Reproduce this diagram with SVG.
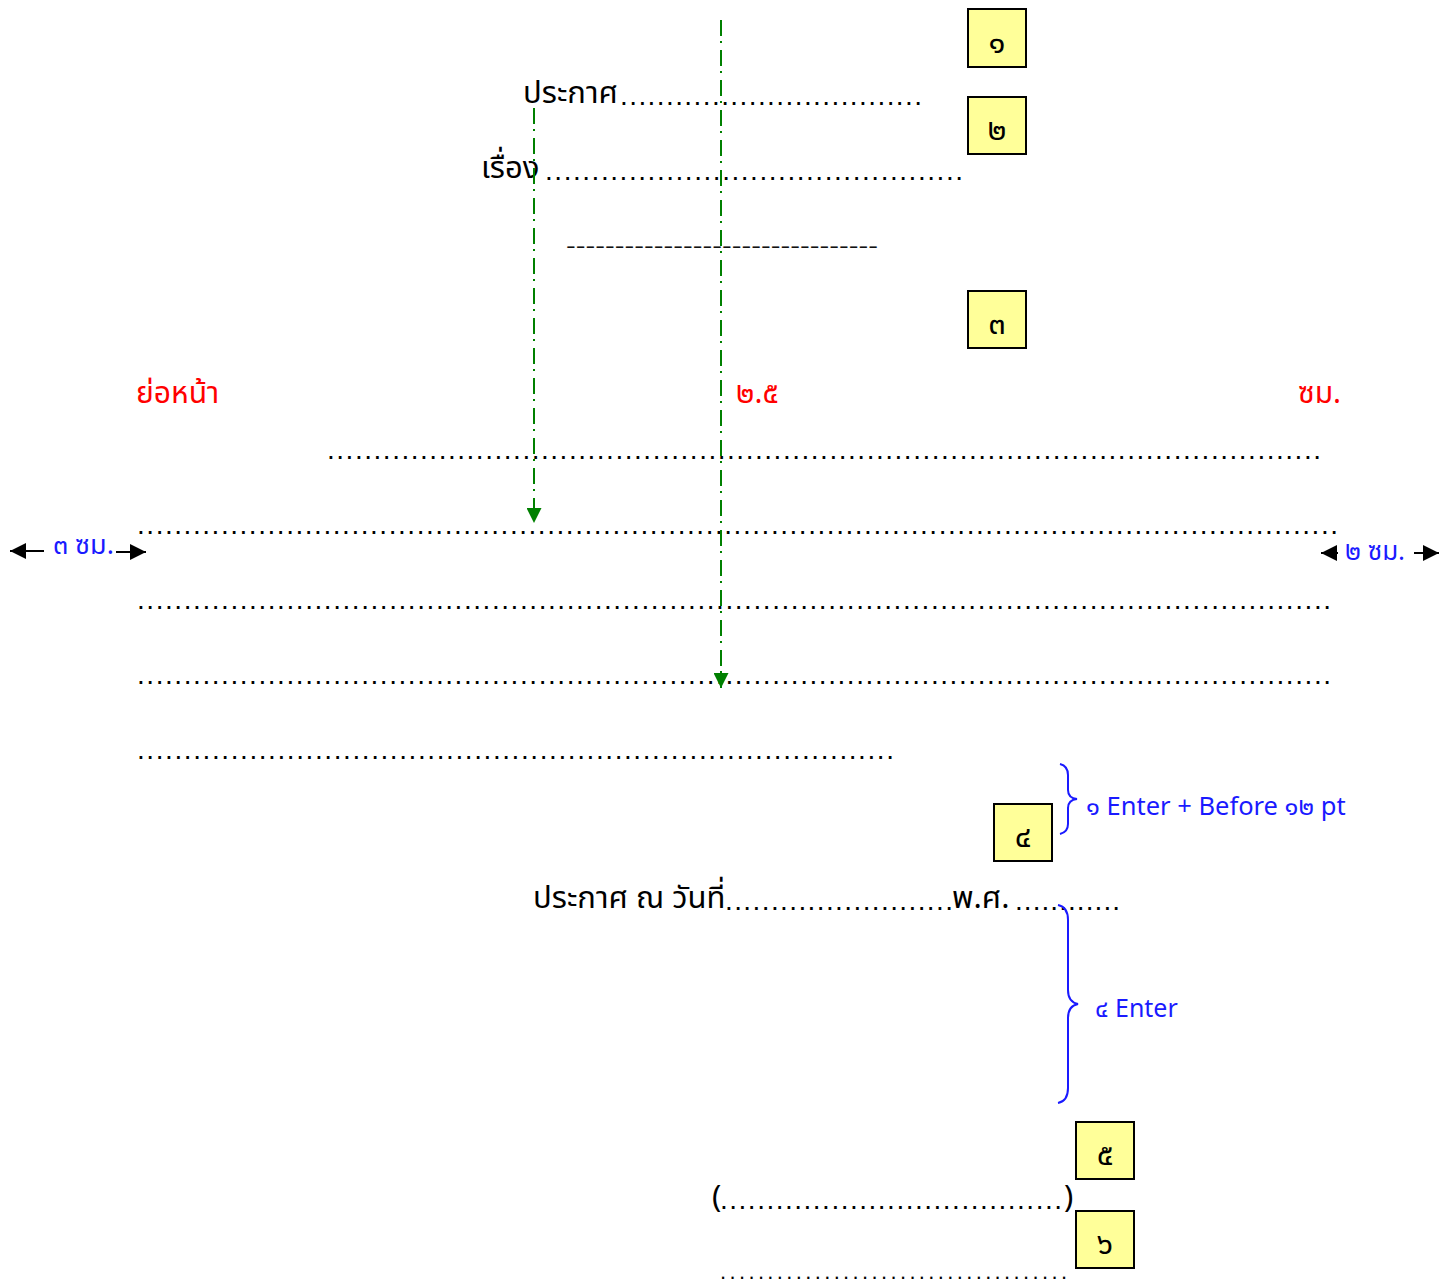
<svg xmlns="http://www.w3.org/2000/svg" width="1453" height="1284" viewBox="0 0 1453 1284">
<style>
.th{font-family:'Noto Sans Thai','Leelawadee UI','Noto Sans','DejaVu Sans',sans-serif;}
.blk{fill:#000;font-size:31px;}
.red{fill:#ff0000;font-size:30px;}
.blu{fill:#1a1aff;}
.dots{font-family:'Liberation Sans',Arial,sans-serif;font-size:28px;fill:#000;}
.box{fill:#ffff99;stroke:#000;stroke-width:2;}
.num{font-size:31px;fill:#000;text-anchor:middle;}
.guide{stroke:#008000;stroke-width:2;stroke-dasharray:16 5 2 7;fill:none;}
.brace{stroke:#1a1aff;stroke-width:2;fill:none;}
.arr{stroke:#000;stroke-width:2;}
</style>
<defs>
<marker id="gArrow" viewBox="0 0 10 10" refX="10" refY="5" markerWidth="15" markerHeight="15" markerUnits="userSpaceOnUse" orient="auto">
<path d="M0,0 L10,5 L0,10 z" fill="#008000"/>
</marker>
<marker id="kArrow" viewBox="0 0 10 10" refX="10" refY="5" markerWidth="16" markerHeight="16" markerUnits="userSpaceOnUse" orient="auto">
<path d="M0,0 L10,5 L0,10 z" fill="#000"/>
</marker>
</defs>

<g id="boxes">
<g id="box1"><rect class="box" x="968" y="9" width="58" height="58"/><text class="th num" x="997" y="53">๑</text></g>
<g id="box2"><rect class="box" x="968" y="97" width="58" height="57"/><text class="th num" x="997" y="140">๒</text></g>
<g id="box3"><rect class="box" x="968" y="291" width="58" height="57"/><text class="th num" x="997" y="334">๓</text></g>
<g id="box4"><rect class="box" x="994" y="804" width="58" height="57"/><text class="th num" x="1023" y="847">๔</text></g>
<g id="box5"><rect class="box" x="1076" y="1122" width="58" height="57"/><text class="th num" x="1105" y="1165">๕</text></g>
<g id="box6"><rect class="box" x="1076" y="1211" width="58" height="57"/><text class="th num" x="1105" y="1254">๖</text></g>
</g>

<g id="texts">
<text class="th blk" x="523" y="103">ประกาศ</text>
<text class="dots" x="620" y="105" textLength="302" lengthAdjust="spacing">.................................</text>
<text class="th blk" x="481" y="178" font-size="29">เรื่อง</text>
<text class="dots" x="545" y="180" textLength="418" lengthAdjust="spacing">.............................................</text>
<text x="566" y="253" font-family="'Liberation Sans',Arial,sans-serif" font-size="20" fill="#111" textLength="312" lengthAdjust="spacingAndGlyphs">--------------------------------</text>

<text class="th red" x="136" y="403">ย่อหน้า</text>
<text class="th red" x="736" y="403">๒.๕</text>
<text class="th red" x="1298" y="403" font-size="25">ซม.</text>

<text class="dots" x="327" y="459" textLength="994" lengthAdjust="spacing">...........................................................................................................</text>
<text class="dots" x="137" y="534" textLength="1201" lengthAdjust="spacing">.................................................................................................................................</text>
<text class="dots" x="137" y="609" textLength="1194" lengthAdjust="spacing">................................................................................................................................</text>
<text class="dots" x="137" y="684" textLength="1194" lengthAdjust="spacing">................................................................................................................................</text>
<text class="dots" x="137" y="759" textLength="757" lengthAdjust="spacing">.................................................................................</text>

<text class="th blu" x="53" y="554" font-size="27">๓ ซม.</text>
<text class="th blu" x="1345" y="560" font-size="26">๒ ซม.</text>

<text class="th blu" x="1086" y="815" font-size="25.5">๑ Enter + Before ๑๒ pt</text>

<text class="th blk" x="533" y="908">ประกาศ ณ วันที่</text>
<text class="dots" x="725" y="910" textLength="228" lengthAdjust="spacing">.........................</text>
<text class="th blk" x="952" y="908">พ.ศ.</text>
<text class="dots" x="1015" y="910" textLength="105" lengthAdjust="spacing">............</text>

<text class="th blu" x="1095" y="1017" font-size="25">๔ Enter</text>

<text class="th blk" x="712" y="1207">(</text>
<text class="dots" x="720" y="1209" textLength="342" lengthAdjust="spacing">.....................................</text>
<text class="th blk" x="1064" y="1207">)</text>
<text x="720" y="1279" font-family="'Liberation Sans',Arial,sans-serif" font-size="22" fill="#000" textLength="347" lengthAdjust="spacing">.....................................</text>
</g>

<g id="connectors">
<path class="guide" d="M721,20 V688" marker-end="url(#gArrow)"/>
<path class="guide" d="M534,108 V523" marker-end="url(#gArrow)"/>
<path class="arr" d="M44,551 H10" marker-end="url(#kArrow)"/>
<path class="arr" d="M116,552 H146" marker-end="url(#kArrow)"/>
<path class="arr" d="M1338,553 H1321" marker-end="url(#kArrow)"/>
<path class="arr" d="M1414,553 H1439" marker-end="url(#kArrow)"/>
<path class="brace" d="M1060,764 Q1068,766 1068,775 V790 Q1068,798 1077,799 Q1068,800 1068,808 V824 Q1068,832 1060,834"/>
<path class="brace" d="M1058,905 Q1068,907 1068,920 V990 Q1068,1002 1078,1004 Q1068,1006 1068,1018 V1088 Q1068,1101 1058,1103"/>
</g>
</svg>
